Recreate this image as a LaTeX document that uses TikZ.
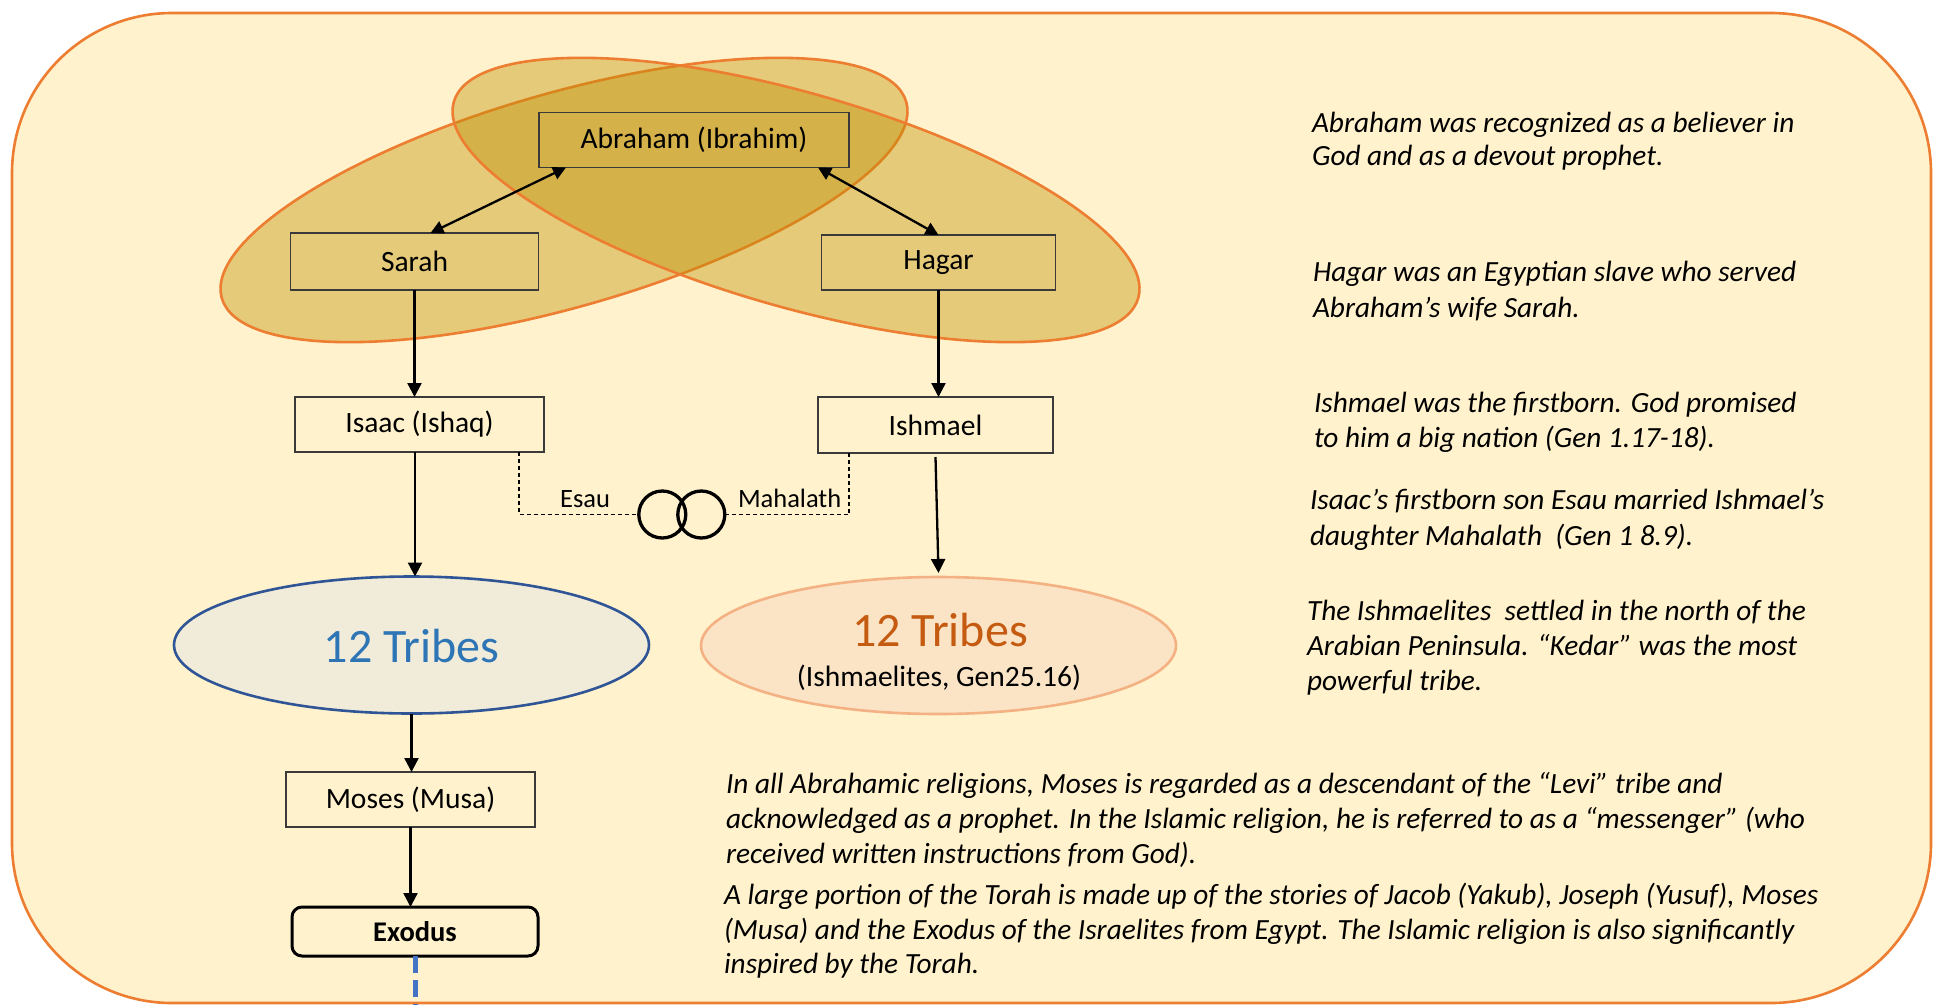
\documentclass[tikz,border=0pt]{standalone}
\usepackage{fontspec}
\setmainfont{Carlito}
\usetikzlibrary{arrows.meta,shapes.geometric,calc}

\definecolor{panelfill}{HTML}{FFF2CC}
\definecolor{panelline}{HTML}{ED7D31}
\definecolor{gold}{HTML}{BF9000}
\definecolor{boxline}{HTML}{3A3A3A}
\definecolor{tribeblue}{HTML}{2E75B6}
\definecolor{tribebluefill}{HTML}{F1EBD9}
\definecolor{tribeblueline}{HTML}{2F5597}
\definecolor{tribeorange}{HTML}{C55A11}
\definecolor{tribeorangefill}{HTML}{FBE4C6}
\definecolor{tribeorangeline}{HTML}{F4B183}
\definecolor{exodusblue}{HTML}{4472C4}

\begin{document}
\begin{tikzpicture}[x=1pt,y=-1pt,
  every node/.style={inner sep=0pt, outer sep=0pt},
  person/.style={draw=boxline, line width=1.3pt, minimum height=55pt,
                 font=\fontsize{29.5}{35}\selectfont},
  tribe/.style={ellipse, line width=2.6pt, minimum width=475pt, minimum height=137pt},
  arr/.style={line width=2.3pt, -{Triangle[length=14pt,width=14pt]}},
  biarr/.style={line width=2.3pt, {Triangle[length=13pt,width=13pt]}-{Triangle[length=13pt,width=13pt]}},
  kinline/.style={line width=1.3pt, dash pattern=on 4pt off 3pt},
  ring/.style={circle, draw, line width=3.3pt, minimum size=47pt},
  kinlabel/.style={font=\fontsize{26.5}{32}\selectfont},
  note/.style={anchor=base west, font=\fontsize{29.3}{35}\selectfont\itshape},
  bnote/.style={anchor=base west, font=\fontsize{29.3}{35}\selectfont\itshape},
  bond/.style={fill=gold, fill opacity=0.4, draw=panelline, line width=2.6pt}
]
\useasboundingbox (0,0) rectangle (1946,1005);
\fill[white] (0,0) rectangle (1946,1005);

% panel
\path[fill=panelfill, draw=panelline, line width=2.6pt, rounded corners=160pt]
  (12,13) rectangle (1931,1003);

% marriage bonds
\path[bond, rotate around={16:(564,200)}] (564,200) ellipse [x radius=356, y radius=107];
\path[bond, rotate around={-16:(796,200)}] (796,200) ellipse [x radius=356, y radius=107];

% family boxes
\node[person, minimum width=310pt] (abraham) at (694,140) {Abraham (Ibrahim)};
\node[person, minimum width=248pt, minimum height=57pt] (sarah) at (414.5,261.5) {Sarah};
\node[person, minimum width=234pt] (hagar) at (938.5,262.5) {Hagar};
\node[person, minimum width=249pt] (isaac) at (419.5,424.5) {Isaac (Ishaq)};
\node[person, minimum width=235pt, minimum height=56pt] (ishmael) at (935.5,425) {Ishmael};
\node[person, minimum width=249pt] (moses) at (410.5,799.5) {Moses (Musa)};
\node[draw=black, line width=3pt, rounded corners=10pt, minimum width=246pt, minimum height=49pt,
      font=\fontsize{28.5}{34}\selectfont\bfseries] (exodus) at (415,931.5) {Exodus};

% tribes
\node[tribe, draw=tribeblueline, fill=tribebluefill] (tribesA) at (411.5,645) {};
\node[font=\fontsize{48}{52}\selectfont, text=tribeblue] (tribesAlabel) at (411.5,646) {12 Tribes};
\node[tribe, draw=tribeorangeline, fill=tribeorangefill] (tribesB) at (938.5,645.5) {};
\node[font=\fontsize{48}{52}\selectfont, text=tribeorange] (tribesBlabel) at (940,630) {12 Tribes};
\node[font=\fontsize{29.5}{35}\selectfont] (tribesBsub) at (939,678) {(Ishmaelites, Gen25.16)};

% rings
\node[ring] (ringL) at (662.3,514.5) {};
\node[ring] (ringR) at (701.3,514.5) {};
\node[kinlabel, anchor=base east] (esau) at (610,507.5) {Esau};
\node[kinlabel, anchor=base west] (mahalath) at (738,507) {Mahalath};

% connectors
\draw[biarr] ([xshift=27pt]abraham.south west) -- ([xshift=16pt]sarah.north);
\draw[biarr] ([xshift=-31pt]abraham.south east) -- (hagar.north);
\draw[arr] (sarah.south) -- (sarah.south |- isaac.north);
\draw[arr] (hagar.south) -- (hagar.south |- ishmael.north);
\draw[arr] ([xshift=-4.5pt]isaac.south) -- ([xshift=-4.5pt]isaac.south |- tribesA.north);
\draw[arr] ([yshift=-4pt]ishmael.south) -- ([yshift=4pt]tribesB.north);
\draw[arr] (tribesA.south) -- (tribesA.south |- moses.north);
\draw[arr] (moses.south) -- (moses.south |- exodus.north);
\draw[kinline] ([xshift=-25pt]isaac.south east) |- (ringL.west);
\draw[kinline] ([xshift=31pt]ishmael.south west) |- (ringR.east);
\coordinate (tail) at (415,1005);
\draw[exodusblue, line width=5pt, dash pattern=on 17pt off 7pt] (exodus.south) -- (exodus.south |- tail);

% notes on the right
\node[note] (n1a) at (1312,132) {Abraham was recognized as a believer in};
\node[note] (n1b) at (1312,165) {God and as a devout prophet.};
\node[note] (n2a) at (1313,281) {Hagar was an Egyptian slave who served};
\node[note] (n2b) at (1313,317) {Abraham’s wife Sarah.};
\node[note] (n3a) at (1314,412) {Ishmael was the firstborn. God promised};
\node[note] (n3b) at (1314,447) {to him a big nation (Gen 1.17-18).};
\node[note] (n4a) at (1310,509) {Isaac’s firstborn son Esau married Ishmael’s};
\node[note] (n4b) at (1310,545) {daughter Mahalath\ \ (Gen 1 8.9).};
\node[note] (n5a) at (1307,620) {The Ishmaelites\ \ settled in the north of the};
\node[note] (n5b) at (1307,655) {Arabian Peninsula. “Kedar” was the most};
\node[note] (n5c) at (1307,690) {powerful tribe.};

% notes at the bottom
\node[bnote] (m1a) at (726,793) {In all Abrahamic religions, Moses is regarded as a descendant of the “Levi” tribe and};
\node[bnote] (m1b) at (726,828) {acknowledged as a prophet. In the Islamic religion, he is referred to as a “messenger” (who};
\node[bnote] (m1c) at (726,863) {received written instructions from God).};
\node[bnote] (m2a) at (724,904) {A large portion of the Torah is made up of the stories of Jacob (Yakub), Joseph (Yusuf), Moses};
\node[bnote] (m2b) at (724,939) {(Musa) and the Exodus of the Israelites from Egypt. The Islamic religion is also significantly};
\node[bnote] (m2c) at (724,973) {inspired by the Torah.};
\end{tikzpicture}
\end{document}
